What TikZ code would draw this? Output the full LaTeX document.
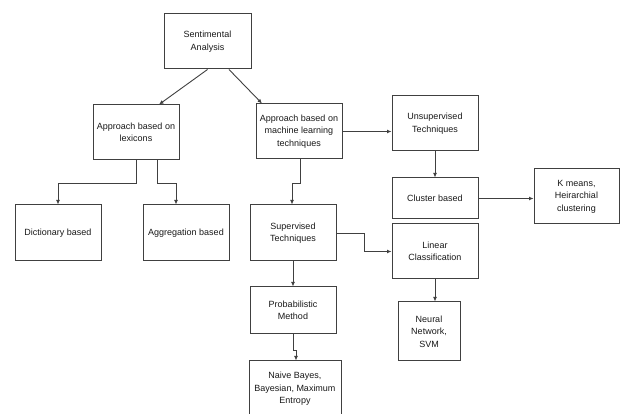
\documentclass[tikz,border=0pt]{standalone}
\usepackage{fontspec}
\setmainfont{Liberation Sans}
\usetikzlibrary{arrows.meta,calc}
\begin{document}
\begin{tikzpicture}[x=1pt,y=-1pt,
  box/.style={draw=black!75,line width=1pt,inner sep=0pt,align=center,
    font=\fontsize{9}{12.5}\selectfont,text=black!90},
  conn/.style={draw=black!75,line width=0.9pt,-{Latex[length=4.5pt,width=4pt]}}]
\useasboundingbox (0,0) rectangle (622,414);
\fill[white] (0,0) rectangle (622,414);
\node[box,minimum width=87pt,minimum height=55pt] (sa) at (207.5,41.5) {Sentimental\\Analysis};
\node[box,minimum width=86pt,minimum height=55pt] (lex) at (136,132.5) {Approach based on\\lexicons};
\node[box,minimum width=86pt,minimum height=55pt] (ml) at (299,131.5) {Approach based on\\machine learning\\techniques};
\node[box,minimum width=86pt,minimum height=56pt] (dict) at (58,233) {Dictionary based};
\node[box,minimum width=86pt,minimum height=56pt] (agg) at (186,233) {Aggregation based};
\node[box,minimum width=86pt,minimum height=56pt] (sup) at (293,233) {Supervised\\Techniques};
\node[box,minimum width=86pt,minimum height=47pt] (prob) at (293,310.5) {Probabilistic\\Method};
\node[box,minimum width=92pt,minimum height=56pt] (naive) at (295,389) {Naive Bayes,\\Bayesian, Maximum\\Entropy};
\node[box,minimum width=86pt,minimum height=55pt] (unsup) at (435,123.5) {Unsupervised\\Techniques};
\node[box,minimum width=86pt,minimum height=41pt] (clus) at (435,198.5) {Cluster based};
\node[box,minimum width=85pt,minimum height=55pt] (km) at (576.5,196.5) {K means,\\Heirarchial\\clustering};
\node[box,minimum width=86pt,minimum height=55pt] (lin) at (435,251.5) {Linear\\Classification};
\node[box,minimum width=62pt,minimum height=59pt] (nn) at (429,331.5) {Neural\\Network,\\SVM};

\draw[conn] (sa.south) -- ($(lex.north)+(23,0)$);
\draw[conn] ($(sa.south)+(21.5,0)$) -- ($(ml.north)+(-37,0)$);
\draw[conn] (lex.south) -- ++(0,23) -| (dict.north);
\draw[conn] ($(lex.south)+(21,0)$) -- ++(0,23) -| ($(agg.north)+(-10,0)$);
\draw[conn] ($(ml.south)+(1,0)$) -- ++(0,24) -| ($(sup.north)+(-1,0)$);
\draw[conn] (ml.east) -- (ml.east -| unsup.west);
\draw[conn] (unsup.south) -- (clus.north);
\draw[conn] (clus.east) -- (clus.east -| km.west);
\draw[conn] (sup.east) -- ++(28,0) |- (lin.west);
\draw[conn] (lin.south) -- (lin.south |- nn.north);
\draw[conn] (sup.south) -- (prob.north);
\draw[conn] (prob.south) -- ++(0,16) -| ($(naive.north)+(1,0)$);
\end{tikzpicture}
\end{document}
